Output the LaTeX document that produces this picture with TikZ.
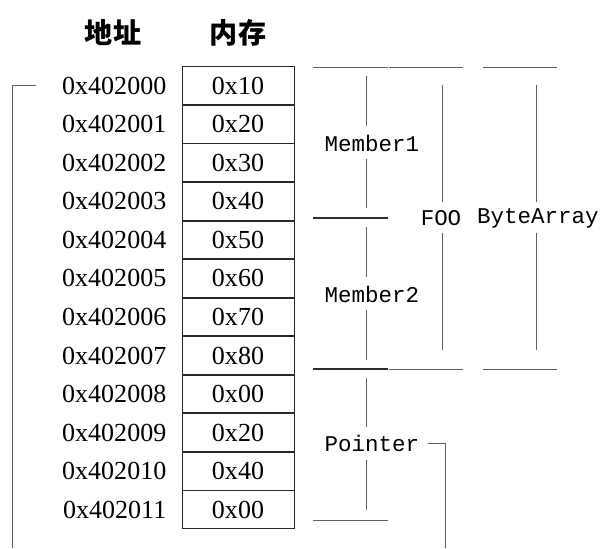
\documentclass[tikz,border=0pt]{standalone}
\usepackage{fontspec}
\setmainfont{Liberation Serif}
\setmonofont{Liberation Mono}
\newfontfamily\cjk{Noto Sans CJK SC}
\usetikzlibrary{positioning}
\definecolor{cellline}{RGB}{40,40,40}
\definecolor{fieldline}{RGB}{95,95,95}
\definecolor{fielddark}{RGB}{45,45,45}

\begin{document}
\begin{tikzpicture}[x=0.025cm, y=-0.025cm]
            \tikzstyle{memcell} = [draw=cellline, line width=0.6pt, minimum width=2.8cm, minimum height=0.9425cm, inner sep=0pt, font=\fontsize{18.5}{20}\selectfont]
            \tikzstyle{addr} = [inner sep=0pt, font=\fontsize{18.5}{20}\selectfont]
            \tikzstyle{headtext} = [inner sep=0pt, font=\cjk\bfseries\fontsize{20}{22}\selectfont]
            \tikzstyle{fieldname} = [inner sep=0pt, font=\ttfamily\fontsize{16}{18}\selectfont]
            \tikzstyle{fieldline} = [draw=fieldline, line width=0.7pt]
            \tikzstyle{fieldedge} = [draw=fielddark, line width=0.9pt]
            \tikzstyle{ptrline} = [draw=fieldline, line width=0.7pt]
            \useasboundingbox (0,0) rectangle (600,548);

            % memory cells
            \node[memcell] (m1) at (238,85.6) {0x10};
            \node[memcell, below=0pt of m1] (m2) {0x20};
            \node[memcell, below=0pt of m2] (m3) {0x30};
            \node[memcell, below=0pt of m3] (m4) {0x40};
            \node[memcell, below=0pt of m4] (m5) {0x50};
            \node[memcell, below=0pt of m5] (m6) {0x60};
            \node[memcell, below=0pt of m6] (m7) {0x70};
            \node[memcell, below=0pt of m7] (m8) {0x80};
            \node[memcell, below=0pt of m8] (m9) {0x00};
            \node[memcell, below=0pt of m9] (m10) {0x20};
            \node[memcell, below=0pt of m10] (m11) {0x40};
            \node[memcell, below=0pt of m11] (m12) {0x00};

            % addresses
            \node[addr, left=0.375cm of m1] (a1) {0x402000};
            \node[addr, left=0.375cm of m2] (a2) {0x402001};
            \node[addr, left=0.375cm of m3] (a3) {0x402002};
            \node[addr, left=0.375cm of m4] (a4) {0x402003};
            \node[addr, left=0.375cm of m5] (a5) {0x402004};
            \node[addr, left=0.375cm of m6] (a6) {0x402005};
            \node[addr, left=0.375cm of m7] (a7) {0x402006};
            \node[addr, left=0.375cm of m8] (a8) {0x402007};
            \node[addr, left=0.375cm of m9] (a9) {0x402008};
            \node[addr, left=0.375cm of m10] (a10) {0x402009};
            \node[addr, left=0.375cm of m11] (a11) {0x402010};
            \node[addr, left=0.375cm of m12] (a12) {0x402011};

            % headers
            \node[headtext, above=0.5cm of m1] (hmem) {内存};
            \node[headtext] (haddr) at (113,0 |- hmem) {地址};

            % field names
            \node[fieldname] (member1) at (372,143) {Member1};
            \node[fieldname] (member2) at (372,294) {Member2};
            \node[fieldname] (pointer) at (372,443) {Pointer};
            \node[fieldname] (foo) at (441,218) {FOO};
            \node[fieldname] (bytearray) at (538,218) {ByteArray};

            % field edges
            \draw[fieldline] (313,67) -- (388,67);
            \draw[fieldline] (389,67) -- (463,67);
            \draw[fieldline] (483,67) -- (557,67);
            \draw[fieldedge] (313,218) -- (388,218);
            \draw[fieldedge] (313,369) -- (388,369);
            \draw[fieldline] (389,369) -- (463,369);
            \draw[fieldline] (483,369) -- (557,369);
            \draw[fieldline] (313,520) -- (388,520);

            % field spans
            \draw[fieldline] (366,76) -- (366,126);
            \draw[fieldline] (366,159) -- (366,208);
            \draw[fieldline] (366,227) -- (366,277);
            \draw[fieldline] (366,310) -- (366,360);
            \draw[fieldline] (366,378) -- (366,427);
            \draw[fieldline] (366,460) -- (366,510);
            \draw[fieldline] (442,85) -- (442,202);
            \draw[fieldline] (442,233) -- (442,350);
            \draw[fieldline] (536,85) -- (536,202);
            \draw[fieldline] (536,233) -- (536,350);

            % pointer links
            \coordinate (leftstart) at (36,0);
            \coordinate (leftend) at (12,548);
            \coordinate (ptrend) at (445,548);
            \draw[ptrline] (leftstart |- a1.west) -| (leftend);
            \draw[ptrline] ([xshift=0.2cm]pointer.east) -| (ptrend);
        \end{tikzpicture}
\end{document}
